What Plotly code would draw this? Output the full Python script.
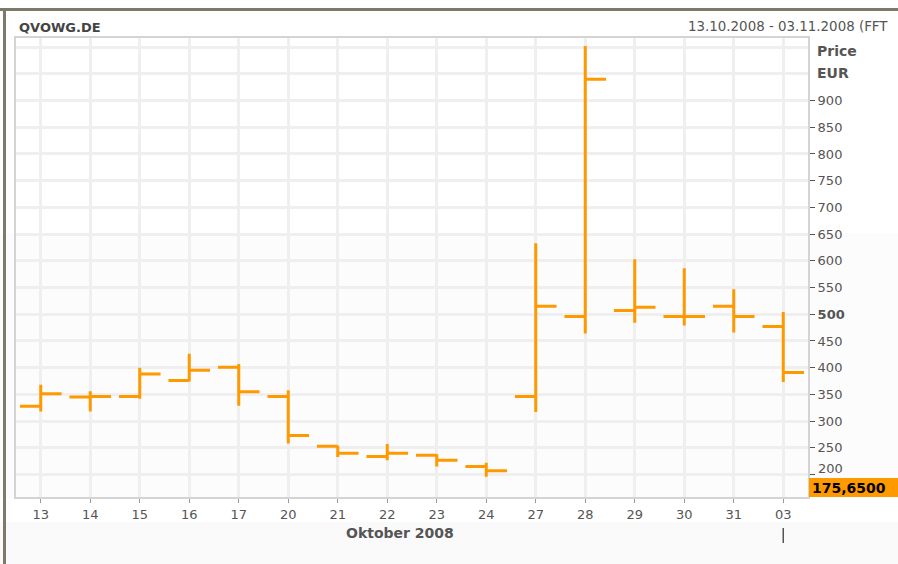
import plotly.graph_objects as go

# ---- data ----
days = ["13", "14", "15", "16", "17", "20", "21", "22", "23", "24", "27", "28", "29", "30", "31", "03"]
open_ = [328, 345, 346, 376, 401, 346, 253, 234, 236, 215, 346, 496, 507, 496, 515, 477]
high_ = [368, 356, 400, 426, 407, 358, 254, 257, 238, 222, 633, 1002, 603, 586, 547, 504]
low_ = [318, 318, 342, 374, 329, 258, 233, 227, 215, 196, 317, 464, 484, 479, 466, 373]
close_ = [351, 346, 388, 395, 355, 273, 240, 240, 227, 207, 515, 940, 513, 496, 496, 391]
y_ticks = [200, 250, 300, 350, 400, 450, 500, 550, 600, 650, 700, 750, 800, 850, 900]
last_price = 175.65

ORANGE = "#ff9900"
GRID = "#efefef"
TXT = "#555555"
FONT = "DejaVu Sans"

W, H = 898, 564
L, R, T, B = 16, 808, 38, 497


def px_x(x):
    return (x - L) / (R - L)


def px_y(y):
    return (B - y) / (B - T)


fig = go.Figure(go.Ohlc(
    x=days, open=open_, high=high_, low=low_, close=close_,
    increasing=dict(line=dict(color=ORANGE, width=3)),
    decreasing=dict(line=dict(color=ORANGE, width=3)),
    tickwidth=0.42, hoverinfo="x+y", showlegend=False,
))

ticktext = [("<b>500</b>" if v == 500 else ("" if v == 200 else str(v))) for v in y_ticks]

fig.update_layout(
    width=W, height=H,
    margin=dict(l=L, r=W - R, t=T, b=H - B),
    paper_bgcolor="white",
    plot_bgcolor="rgba(0,0,0,0)",
    font=dict(family=FONT, size=13, color=TXT),
    xaxis=dict(
        type="category", range=[-0.5, 15.5], rangeslider=dict(visible=False),
        showgrid=True, gridcolor=GRID, gridwidth=3,
        ticks="outside", ticklen=4, tickcolor="#999999", tickwidth=1,
        showline=True, linecolor="#d4d4d4", linewidth=2, mirror=True,
        tickfont=dict(family=FONT, size=13, color=TXT), zeroline=False,
    ),
    yaxis=dict(
        side="right", range=[158, 1017],
        tickvals=y_ticks, ticktext=ticktext,
        showgrid=True, gridcolor=GRID, gridwidth=3,
        minor=dict(tickvals=[950, 1000], showgrid=True, gridcolor=GRID, gridwidth=3, ticks=""),
        ticks="outside", ticklen=5, tickcolor=TXT, tickwidth=1,
        showline=True, linecolor="#d4d4d4", linewidth=2, mirror=True,
        tickfont=dict(family=FONT, size=13, color=TXT), zeroline=False,
    ),
)

shapes = [
    # slightly grey lower background
    dict(type="rect", xref="paper", yref="paper", x0=px_x(0), x1=px_x(W), y0=px_y(233), y1=px_y(498),
         fillcolor="#fcfcfc", line=dict(width=0), layer="below"),
    dict(type="rect", xref="paper", yref="paper", x0=px_x(0), x1=px_x(W), y0=px_y(H), y1=px_y(522),
         fillcolor="#fafafa", line=dict(width=0), layer="below"),
    # window frame
    dict(type="line", xref="paper", yref="paper", x0=px_x(0), x1=px_x(W), y0=px_y(9.5), y1=px_y(9.5),
         line=dict(color="#7d7a6b", width=3)),
    dict(type="line", xref="paper", yref="paper", x0=px_x(4.5), x1=px_x(4.5), y0=px_y(9), y1=px_y(H),
         line=dict(color="#7d7a6b", width=3)),
    # last price box
    dict(type="rect", xref="paper", yref="paper", x0=px_x(809), x1=px_x(W + 2), y0=px_y(497), y1=px_y(478),
         fillcolor=ORANGE, line=dict(width=0)),
    # month separator below 03
    dict(type="line", xref="x", yref="paper", x0=15, x1=15, y0=px_y(528), y1=px_y(543),
         line=dict(color="#555555", width=1.5)),
]
fig.update_layout(shapes=shapes)

annotations = [
    dict(text="<b>QVOWG.DE</b>", xref="paper", yref="paper", x=px_x(17), y=px_y(27),
         xanchor="left", yanchor="middle", showarrow=False, font=dict(size=13, color="#444444")),
    dict(text="13.10.2008 - 03.11.2008 (FFT", xref="paper", yref="paper", x=px_x(686), y=px_y(26),
         xanchor="left", yanchor="middle", showarrow=False, font=dict(size=13.4, color=TXT)),
    dict(text="<b>Price</b>", xref="paper", yref="paper", x=px_x(815), y=px_y(51),
         xanchor="left", yanchor="middle", showarrow=False, font=dict(size=14, color=TXT)),
    dict(text="<b>EUR</b>", xref="paper", yref="paper", x=px_x(815), y=px_y(73),
         xanchor="left", yanchor="middle", showarrow=False, font=dict(size=14, color=TXT)),
    dict(text="200", xref="paper", yref="y", x=px_x(816), y=200, yshift=6,
         xanchor="left", yanchor="middle", showarrow=False, font=dict(size=13, color=TXT)),
    dict(text="<b>%s</b>" % f"{last_price:.4f}".replace(".", ","), xref="paper", yref="y",
         x=px_x(810), y=last_price, xanchor="left", yanchor="middle", showarrow=False,
         font=dict(size=14, color="#000000")),
    dict(text="<b>Oktober 2008</b>", xref="paper", yref="paper", x=px_x(400), y=px_y(533),
         xanchor="center", yanchor="middle", showarrow=False, font=dict(size=14, color=TXT)),
]
fig.update_layout(annotations=annotations)

fig.write_html(
    "out.html",
    config={"displayModeBar": False},
    post_script="document.body.style.margin='0';document.body.style.overflow='hidden';",
)
